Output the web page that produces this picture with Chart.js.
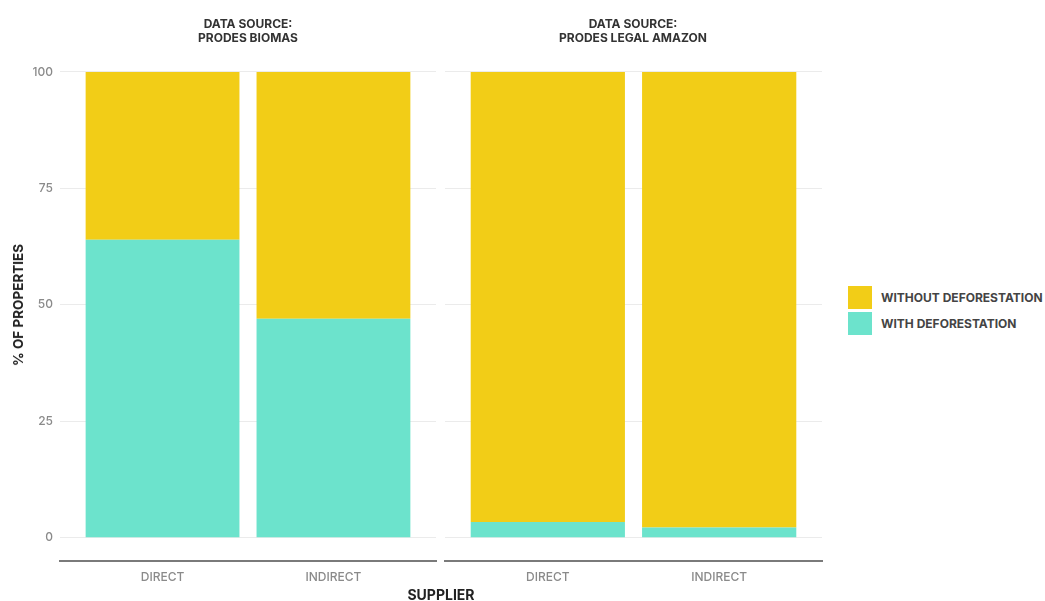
<!DOCTYPE html>
<html>
<head>
<meta charset="utf-8">
<script src="https://cdn.jsdelivr.net/npm/chart.js@4"></script>
<style>
  body { margin: 0; background: #fff; font-family: Inter, "Open Sans", sans-serif; }
  #wrap { position: relative; width: 1045px; height: 601px; overflow: hidden; }
  canvas { position: absolute; top: 0; }
  .facet { position: absolute; top: 17px; width: 380px; text-align: center; font-size: 12px; font-weight: 700; color: #333; line-height: 14px; }
  .ytitle { position: absolute; left: 18px; top: 305px; transform: translate(-50%, -50%) rotate(-90deg); font-size: 13.5px; font-weight: 700; color: #222; white-space: nowrap; }
  .xtitle { position: absolute; left: 441px; top: 594px; transform: translate(-50%, -50%); font-size: 14px; font-weight: 700; color: #222; }
  .legend { position: absolute; left: 848px; top: 284px; font-size: 12px; font-weight: 700; color: #444; }
  .legend div { display: flex; align-items: center; height: 26px; white-space: nowrap; }
  .legend span { display: inline-block; width: 24px; height: 23px; margin-right: 9px; }
</style>
</head>
<body>
<div id="wrap">
  <canvas id="left" width="440" height="601" style="left:0;width:440px;height:601px"></canvas>
  <canvas id="right" width="390" height="601" style="left:440px;width:390px;height:601px"></canvas>
  <div class="facet" style="left:58px">DATA SOURCE:<br>PRODES BIOMAS</div>
  <div class="facet" style="left:443px">DATA SOURCE:<br>PRODES LEGAL AMAZON</div>
  <div class="ytitle">% OF PROPERTIES</div>
  <div class="xtitle">SUPPLIER</div>
  <div class="legend" id="legend"></div>
</div>
<script>
const suppliers = ["DIRECT", "INDIRECT"];
const yTicks = [0, 25, 50, 75, 100];

// PRODES Biomas
const biomasWith = [64, 47];
const biomasWithout = [36, 53];
// PRODES Legal Amazon
const amazonWith = [3.4, 2.2];
const amazonWithout = [96.6, 97.8];

const seriesNames = ["WITHOUT DEFORESTATION", "WITH DEFORESTATION"];
const colWithout = "#f2cd17";
const colWith = "#6ce3cc";

function points(vals) {
  return vals.map((v, i) => ({ x: i + 1, y: v }));
}

function makeChart(id, withVals, withoutVals, showY) {
  new Chart(document.getElementById(id), {
    type: "bar",
    data: {
      datasets: [
        { label: seriesNames[1], data: points(withVals), backgroundColor: colWith, borderWidth: 0 },
        { label: seriesNames[0], data: points(withoutVals), backgroundColor: colWithout, borderWidth: 0 },
      ],
    },
    options: {
      responsive: false,
      animation: false,
      layout: { padding: { top: 48.7, right: showY ? 4 : 8, bottom: 0, left: 0 } },
      datasets: { bar: { categoryPercentage: 1, barPercentage: 0.9 } },
      plugins: { legend: { display: false }, tooltip: { enabled: false } },
      scales: {
        x: {
          type: "linear",
          min: 0.4,
          max: 2.6,
          offset: false,
          stacked: true,
          afterBuildTicks: (s) => { s.ticks = suppliers.map((_, i) => ({ value: i + 1 })); },
          afterFit: (s) => { s.height = 40; },
          grid: { display: false },
          border: { display: true, color: "#7a7a7a", width: 2 },
          ticks: {
            padding: 1,
            color: "#8a8a8a",
            font: { family: "Inter", size: 12, weight: 500 },
            callback: (v) => suppliers[v - 1] || "",
          },
        },
        y: {
          min: -5,
          max: 105,
          stacked: true,
          afterBuildTicks: (s) => { s.ticks = yTicks.map((v) => ({ value: v })); },
          afterFit: (s) => { s.width = showY ? 60 : 5; },
          grid: { color: "#ebebeb", lineWidth: 1, drawTicks: false },
          border: { display: false },
          ticks: {
            display: showY,
            padding: 7,
            color: "#8a8a8a",
            font: { family: "Inter", size: 12, weight: 500 },
          },
        },
      },
    },
  });
}

makeChart("left", biomasWith, biomasWithout, true);
makeChart("right", amazonWith, amazonWithout, false);

document.getElementById("legend").innerHTML =
  `<div><span style="background:${colWithout}"></span>${seriesNames[0]}</div>` +
  `<div><span style="background:${colWith}"></span>${seriesNames[1]}</div>`;
</script>
</body>
</html>
